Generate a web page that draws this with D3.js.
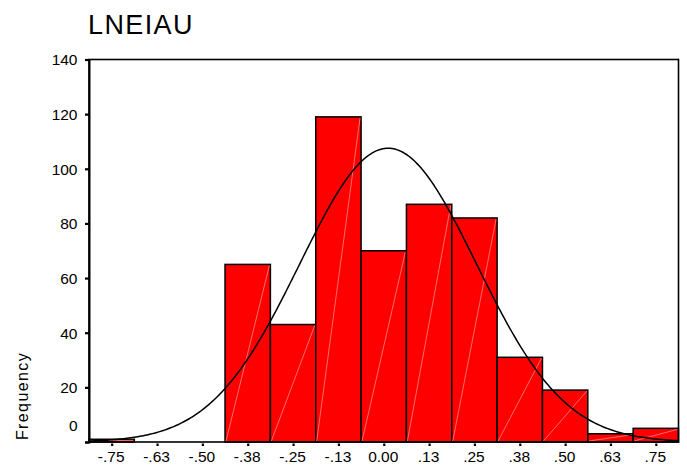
<!DOCTYPE html>
<html>
<head>
<meta charset="utf-8">
<script src="https://cdn.jsdelivr.net/npm/d3@7"></script>
<style>
  body { margin: 0; background: #fff; }
  text { font-family: "Liberation Sans", Arial, sans-serif; fill: #000; }
</style>
</head>
<body>
<svg id="chart" width="687" height="466"></svg>
<script>
// bin centres (width .125) and the labels SPSS prints under them
var binCenters = [-0.75, -0.625, -0.5, -0.375, -0.25, -0.125, 0, 0.125, 0.25, 0.375, 0.5, 0.625, 0.75];
var binLabels = ["-.75", "-.63", "-.50", "-.38", "-.25", "-.13", "0.00", ".13", ".25", ".38", ".50", ".63", ".75"];
var counts = [1, 0, 0, 65, 43, 119, 70, 87, 82, 31, 19, 3, 5];
var yTicks = [0, 20, 40, 60, 80, 100, 120, 140];

// normal curve stats
var nCases = 525, mean = 0.012, stdDev = 0.2435;
var binWidth = 0.125;

var svg = d3.select("#chart");

var x = d3.scaleLinear()
    .domain([-0.8125, 0.8125])
    .range([89, 678.5]);

var y = d3.scaleLinear()
    .domain([0, 140])
    .range([442, 59.5]);

// title
svg.append("text")
    .attr("x", 88)
    .attr("y", 34)
    .style("font-size", "27px")
    .style("letter-spacing", "1.4px")
    .text("LNEIAU");

// bars
var bars = svg.append("g").attr("class", "bars");
binCenters.forEach(function (c, i) {
    if (!counts[i]) return;
    var x0 = x(c - binWidth / 2), x1 = x(c + binWidth / 2), yTop = y(counts[i]);
    bars.append("rect")
        .attr("x", x0)
        .attr("y", yTop)
        .attr("width", x1 - x0)
        .attr("height", y(0) - yTop)
        .attr("fill", "#ff0000")
        .attr("stroke", "#000")
        .attr("stroke-width", 1.5);
    // faint diagonal that SPSS leaves in each bar
    bars.append("line")
        .attr("x1", x0 + 1).attr("y1", y(0) - 1)
        .attr("x2", x1 - 1).attr("y2", yTop + 1)
        .attr("stroke", "#ff9a9a")
        .attr("stroke-width", 0.7);
});

// normal curve
var curvePts = d3.range(-0.8125, 0.8126, 0.005).map(function (v) {
    var z = (v - mean) / stdDev;
    return [v, nCases * binWidth * Math.exp(-z * z / 2) / (stdDev * Math.sqrt(2 * Math.PI))];
});
svg.append("path")
    .datum(curvePts)
    .attr("fill", "none")
    .attr("stroke", "#000")
    .attr("stroke-width", 1.5)
    .attr("d", d3.line().x(function (d) { return x(d[0]); }).y(function (d) { return y(d[1]); }));

// frame
svg.append("rect")
    .attr("x", x.range()[0])
    .attr("y", y.range()[1])
    .attr("width", x.range()[1] - x.range()[0])
    .attr("height", y.range()[0] - y.range()[1])
    .attr("fill", "none")
    .attr("stroke", "#000")
    .attr("stroke-width", 1.6);

// y axis
var yAxis = svg.append("g")
    .attr("transform", "translate(" + x.range()[0] + ",0)")
    .call(d3.axisLeft(y).tickValues(yTicks).tickSize(4).tickPadding(7.5));
yAxis.select(".domain").attr("stroke-width", 2);
yAxis.selectAll(".tick line").attr("stroke-width", 2.2);
yAxis.selectAll(".tick text")
    .style("font-size", "15.5px")
    .attr("font-family", null)
    .attr("dy", function (d) { return d === 0 ? "-0.72em" : "0.35em"; });

// x axis
var xAxis = svg.append("g")
    .attr("transform", "translate(0," + y.range()[0] + ")")
    .call(d3.axisBottom(x).tickValues(binCenters)
        .tickFormat(function (d, i) { return binLabels[i]; })
        .tickSize(4).tickPadding(5));
xAxis.select(".domain").remove();
xAxis.selectAll(".tick line").attr("stroke-width", 2.2).attr("y1", 1.5);
xAxis.selectAll(".tick text")
    .style("font-size", "15.5px")
    .attr("font-family", null)
    .attr("dy", "0.71em")
    .attr("dx", "-1");

// y axis title
svg.append("text")
    .attr("transform", "translate(28,396) rotate(-90)")
    .attr("text-anchor", "middle")
    .style("font-size", "16px")
    .style("letter-spacing", "1.4px")
    .text("Frequency");
</script>
</body>
</html>
